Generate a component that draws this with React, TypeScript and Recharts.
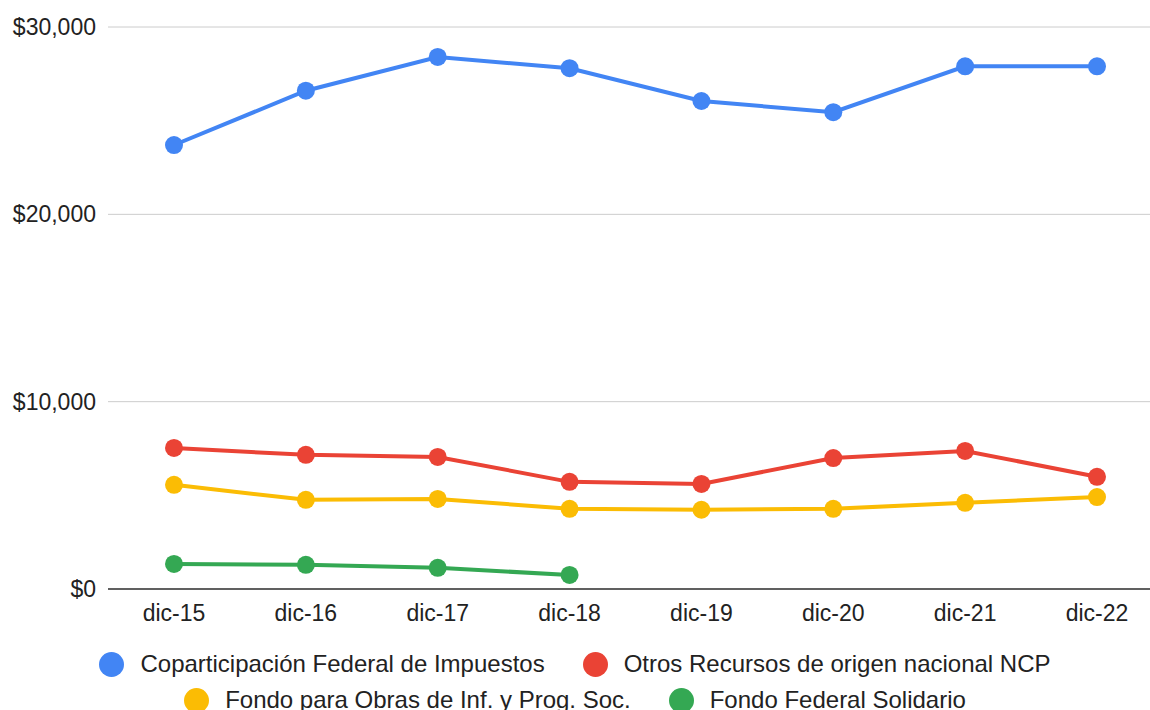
import React from 'react';
import { LineChart, Line, XAxis, YAxis, CartesianGrid, Legend } from 'recharts';

const months = ['dic-15', 'dic-16', 'dic-17', 'dic-18', 'dic-19', 'dic-20', 'dic-21', 'dic-22'];
const coparticipacion = [23700, 26600, 28400, 27800, 26050, 25450, 27900, 27900];
const otrosRecursos = [7530, 7160, 7050, 5720, 5610, 6990, 7370, 5990];
const fondoObras = [5560, 4760, 4810, 4280, 4230, 4280, 4600, 4910];
const fondoSolidario: (number | null)[] = [1340, 1290, 1130, 750, null, null, null, null];

const yTicks = [0, 10000, 20000, 30000];

const series = [
  { key: 'cop', name: 'Coparticipación Federal de Impuestos', color: '#4285F4' },
  { key: 'otros', name: 'Otros Recursos de origen nacional NCP', color: '#EA4335' },
  { key: 'obras', name: 'Fondo para Obras de Inf. y Prog. Soc.', color: '#FBBC04' },
  { key: 'solid', name: 'Fondo Federal Solidario', color: '#34A853' },
];

const data = months.map((m, i) => ({
  month: m,
  cop: coparticipacion[i],
  otros: otrosRecursos[i],
  obras: fondoObras[i],
  solid: fondoSolidario[i],
}));

const FONT = 'Arial, "Liberation Sans", sans-serif';
const fmt = (v: number) => '$' + v.toLocaleString('en-US');

function LegendBox() {
  return (
    <div style={{
      width: 1000, margin: '0 auto', display: 'flex', flexWrap: 'wrap', justifyContent: 'center',
      columnGap: 38, fontFamily: FONT, fontSize: 24, color: '#222', lineHeight: '36px',
    }}>
      {series.map((s) => (
        <div key={s.key} style={{ display: 'flex', alignItems: 'center' }}>
          <span style={{
            width: 25, height: 25, borderRadius: 13, background: s.color,
            display: 'inline-block', marginRight: 16,
          }} />
          <span>{s.name}</span>
        </div>
      ))}
    </div>
  );
}

export default function App() {
  return (
    <div style={{ position: 'absolute', left: 0, top: 0, background: '#fff' }}>
      <LineChart width={1150} height={710} data={data}
        margin={{ top: 27, right: 0, left: 0, bottom: 65 }}>
        <CartesianGrid vertical={false} stroke="#cccccc" />
        <XAxis dataKey="month" padding={{ left: 66, right: 53 }} height={56}
          axisLine={{ stroke: '#333', strokeWidth: 1.5 }} tickLine={false} tickSize={0} tickMargin={16}
          tick={{ fill: '#222', fontSize: 23, fontFamily: FONT }} />
        <YAxis domain={[0, 30000]} ticks={yTicks} width={108} axisLine={false} tickLine={false}
          tickSize={0} tickMargin={12} tickFormatter={fmt}
          tick={{ fill: '#222', fontSize: 23, fontFamily: FONT }} />
        <Legend layout="horizontal" verticalAlign="middle" align="center" content={<LegendBox />}
          wrapperStyle={{ top: 646, left: 0, width: 1150 }} />
        {series.map((s) => (
          <Line key={s.key} dataKey={s.key} name={s.name} stroke={s.color} strokeWidth={4}
            dot={{ r: 9, fill: s.color, stroke: s.color, strokeWidth: 0 }} activeDot={false}
            isAnimationActive={false} />
        ))}
      </LineChart>
    </div>
  );
}
